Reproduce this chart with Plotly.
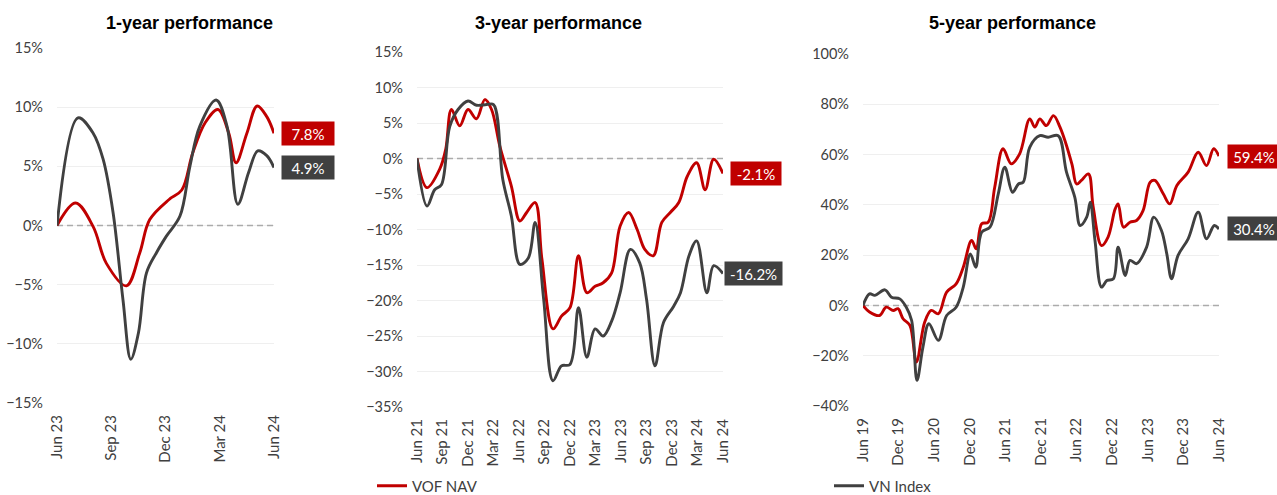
import plotly.graph_objects as go

RED = "#c00000"
GREY = "#404040"

# ---------------- 1-year (x in months since Jun 23) ----------------
y1_tick_text = ["Jun 23", "Sep 23", "Dec 23", "Mar 24", "Jun 24"]
nav1_x = [0, 1.03, 2.0, 2.73, 3.84, 4.58, 5.13, 6.2, 6.9, 7.5, 8.2, 8.9, 9.5, 9.9, 10.5, 11.07, 11.6, 12]
nav1_y = [0, 1.9, -0.1, -3.2, -5.1, -2.3, 0.5, 2.2, 3.0, 6.1, 8.7, 9.8, 7.8, 5.3, 7.8, 10.1, 9.2, 7.8]
vni1_x = [0, 1.16, 2.0, 2.55, 3.1, 3.65, 4.08, 4.5, 4.95, 5.5, 6.05, 6.8, 7.35, 7.9, 8.8, 9.4, 10.0, 10.6, 11.1, 11.6, 12]
vni1_y = [0, 9.1, 7.8, 5.6, 1.1, -6.3, -11.3, -9.1, -4.0, -2.3, -0.9, 0.8, 5.0, 8.4, 10.6, 8.4, 1.8, 4.5, 6.3, 5.9, 4.9]

# ---------------- 3-year (x in months since Jun 21) ----------------
y3_tick_text = ["Jun 21", "Sep 21", "Dec 21", "Mar 22", "Jun 22", "Sep 22", "Dec 22",
                "Mar 23", "Jun 23", "Sep 23", "Dec 23", "Mar 24", "Jun 24"]
nav3_x = [0, 1.18, 2.67, 3.38, 4.05, 5.03, 6.0, 7.0, 7.98, 8.77, 9.75, 11.1, 12.1, 12.9, 13.9, 14.7,
          16.0, 17.0, 18.0, 19.0, 19.98, 20.95, 21.9, 22.9, 23.9, 24.9, 25.9, 26.8, 27.8, 28.8, 29.8,
          30.8, 31.8, 32.9, 33.9, 34.9, 36]
nav3_y = [0, -4.1, -1.5, 1.3, 6.9, 4.6, 6.9, 5.6, 8.3, 6.9, 1.7, -3.9, -8.8, -7.6, -6.2, -14.2,
          -24.0, -22.2, -21.0, -13.7, -18.9, -18.0, -17.5, -16.1, -9.5, -7.6, -10.0, -12.8, -13.7, -9.0, -7.6,
          -6.2, -2.5, -0.6, -4.4, -0.1, -2.1]
vni3_x = [0, 1.18, 2.08, 2.87, 3.85, 4.83, 6.0, 7.0, 8.2, 9.0, 10.1, 11.1, 12.1, 13.1, 13.9, 14.9,
          16.0, 17.0, 18.0, 19.0, 19.98, 20.95, 21.9, 22.9, 23.9, 25.1, 26.2, 27.0, 28.0, 29.0, 30.2,
          31.0, 32.0, 32.9, 34.1, 34.9, 36]
vni3_y = [0, -6.7, -4.4, -3.7, 4.5, 6.9, 8.1, 7.5, 7.6, 7.6, -3.0, -8.1, -14.9, -14.0, -9.0, -19.8,
          -31.3, -29.2, -29.0, -21.0, -28.0, -24.0, -25.0, -22.9, -18.9, -12.8, -14.7, -19.8, -29.2, -23.1, -20.8,
          -18.9, -13.7, -11.6, -18.9, -15.1, -16.2]

# ---------------- 5-year (x in months since Jun 19) ----------------
y5_tick_text = ["Jun 19", "Dec 19", "Jun 20", "Dec 20", "Jun 21", "Dec 21", "Jun 22",
                "Dec 22", "Jun 23", "Dec 23", "Jun 24"]
nav5_x = [0, 1.1, 2.8, 3.9, 5.1, 5.9, 6.75, 7.9, 9.0, 10.4, 11.5, 12.7, 14.1, 15.7, 16.9, 18.3, 19.1,
          20.0, 21.1, 22.2, 23.6, 25.0, 26.4, 28.1, 28.96, 29.8, 30.9, 32.1, 33.2, 35.2, 36.0, 36.8,
          38.0, 38.8, 40.2, 41.3, 42.5, 43.0, 43.9, 45.0, 46.1, 47.2, 48.4, 49.2, 50.6, 51.7, 52.9,
          54.8, 56.5, 57.9, 59.1, 60]
nav5_y = [0, -2.6, -4.0, -0.7, -2.0, -1.3, -5.3, -7.9, -22.5, -6.6, -2.0, -3.3, 5.3, 8.6, 15.2, 25.8, 22.5,
          32.5, 33.1, 47.0, 62.3, 56.3, 60.3, 74.2, 70.9, 74.2, 71.5, 75.5, 70.9, 56.3, 48.3, 49.7,
          52.3, 39.1, 23.8, 27.2, 38.4, 40.4, 31.1, 33.1, 33.8, 37.7, 49.0, 49.7, 44.4, 40.4, 47.7,
          53.0, 60.9, 55.6, 62.3, 59.4]
vni5_x = [0, 1.1, 2.0, 3.7, 4.8, 6.2, 7.3, 8.2, 9.1, 10.1, 11.1, 12.7, 14.1, 15.7, 16.9, 18.1, 19.0,
          20.0, 21.4, 22.8, 23.9, 25.2, 26.2, 27.0, 28.1, 29.8, 31.2, 32.9, 34.3, 35.7, 36.6, 37.7,
          38.3, 39.1, 40.2, 41.1, 42.2, 43.0, 44.2, 45.0, 46.1, 47.8, 49.0, 50.3, 51.2, 52.0, 53.1,
          54.8, 56.5, 57.9, 59.2, 60]
vni5_y = [0, 4.6, 4.0, 6.2, 3.3, 2.6, -0.7, -6.0, -29.8, -16.6, -7.3, -13.9, -4.0, -0.7, 7.3, 20.5, 15.2,
          29.1, 31.1, 44.4, 55.0, 45.0, 48.3, 49.0, 62.9, 67.5, 66.9, 67.5, 53.0, 43.0, 31.8, 35.1,
          41.1, 25.8, 7.3, 9.9, 10.6, 23.2, 11.9, 17.9, 16.6, 23.2, 35.1, 29.8, 20.5, 10.6, 19.9,
          26.5, 37.1, 26.5, 31.8, 30.4]

titles = ["1-year performance", "3-year performance", "5-year performance"]

W, H = 1277, 495
FONT = "Lato, 'Open Sans', sans-serif"

fig = go.Figure()

panels = [
    dict(nav=(nav1_x, nav1_y), vni=(vni1_x, vni1_y), ticks=y1_tick_text, step=3, span=12,
         yr=(-15, 15), dy=5, px=(57, 274), py=(48, 403), title_x=190,
         label_right=(335, 335), label_w=(52, 52)),
    dict(nav=(nav3_x, nav3_y), vni=(vni3_x, vni3_y), ticks=y3_tick_text, step=3, span=36,
         yr=(-35, 15), dy=5, px=(417, 723), py=(52, 407), title_x=558,
         label_right=(782, 783), label_w=(50, 57)),
    dict(nav=(nav5_x, nav5_y), vni=(vni5_x, vni5_y), ticks=y5_tick_text, step=6, span=60,
         yr=(-40, 100), dy=20, px=(863, 1219), py=(54, 406), title_x=1012,
         label_right=(1281, 1281), label_w=(52, 52)),
]

annotations = []
shapes = []
for i, p in enumerate(panels, start=1):
    xa = "x" if i == 1 else f"x{i}"
    ya = "y" if i == 1 else f"y{i}"
    fig.add_trace(go.Scatter(x=p["nav"][0], y=p["nav"][1], mode="lines", name="VOF NAV",
                             line=dict(color=RED, width=2.9, shape="spline", smoothing=1.0),
                             xaxis=xa, yaxis=ya, showlegend=(i == 1), legend="legend",
                             hoverinfo="skip"))
    fig.add_trace(go.Scatter(x=p["vni"][0], y=p["vni"][1], mode="lines", name="VN Index",
                             line=dict(color=GREY, width=2.9, shape="spline", smoothing=1.0),
                             xaxis=xa, yaxis=ya, showlegend=(i == 1), legend="legend2",
                             hoverinfo="skip"))
    tickvals = list(range(0, p["span"] + 1, p["step"]))
    xkey = "xaxis" if i == 1 else f"xaxis{i}"
    ykey = "yaxis" if i == 1 else f"yaxis{i}"
    fig.layout[xkey] = dict(domain=[p["px"][0] / W, p["px"][1] / W], range=[0, p["span"]],
                            anchor=ya, tickvals=tickvals, ticktext=p["ticks"], tickangle=-90,
                            showgrid=False, zeroline=False, showline=False, ticks="",
                            ticklabelstandoff=8, automargin=False,
                            tickfont=dict(family=FONT, size=15, color="#404040"))
    fig.layout[ykey] = dict(domain=[1 - p["py"][1] / H, 1 - p["py"][0] / H], range=list(p["yr"]),
                            anchor=xa, dtick=p["dy"], tick0=0, ticksuffix="%",
                            showgrid=True, gridcolor="#efefef", gridwidth=1, automargin=False,
                            zeroline=False, showline=False, ticks="", ticklabelstandoff=13,
                            tickfont=dict(family=FONT, size=14.5, color="#404040"))
    shapes.append(dict(type="line", xref=xa, yref=ya, x0=0, x1=p["span"], y0=0, y1=0,
                       line=dict(color="#ababab", width=1.4, dash="6px,4px"), layer="between"))
    annotations.append(dict(text=f"<b>{titles[i-1]}</b>", xref="paper", yref="paper",
                            x=p["title_x"] / W, y=1 - 23 / H, xanchor="center", yanchor="middle",
                            showarrow=False,
                            font=dict(family="'Liberation Sans', Arial, sans-serif", size=18, color="#000000")))
    for k, ((xs, ys), col) in enumerate(((p["nav"], RED), (p["vni"], GREY))):
        annotations.append(dict(text=f"{ys[-1]:.1f}%", xref="paper", yref=ya,
                                x=p["label_right"][k] / W, y=ys[-1], xanchor="right", yanchor="middle",
                                showarrow=False, bgcolor=col, borderpad=1,
                                width=p["label_w"][k] - 2, height=21, align="center", valign="middle",
                                font=dict(family=FONT, size=15, color="#ffffff")))

fig.update_layout(
    template="none",
    width=W, height=H,
    margin=dict(l=0, r=0, t=0, b=0, pad=0, autoexpand=False),
    paper_bgcolor="white", plot_bgcolor="white",
    annotations=annotations, shapes=shapes,
    legend=dict(x=372 / W, y=1 - 486 / H, xanchor="left", yanchor="middle", orientation="h",
                bgcolor="rgba(0,0,0,0)", font=dict(family=FONT, size=15, color="#404040")),
    legend2=dict(x=829 / W, y=1 - 486 / H, xanchor="left", yanchor="middle", orientation="h",
                 bgcolor="rgba(0,0,0,0)", font=dict(family=FONT, size=15, color="#404040")),
)

fig.write_html("out.html", config={"displayModeBar": False},
               post_script="document.body.style.margin='0';document.body.style.padding='0';"
                           "document.body.style.overflow='hidden';")
